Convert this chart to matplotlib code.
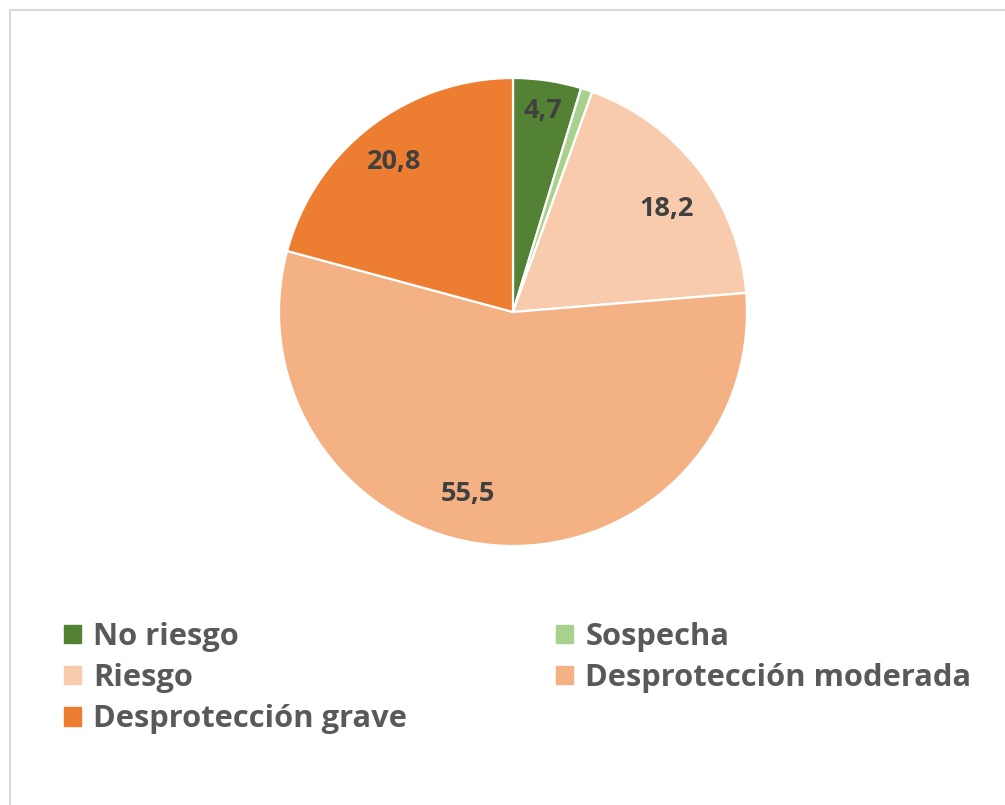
import numpy as np
import matplotlib.pyplot as plt
from matplotlib.patches import Patch
from matplotlib.lines import Line2D

categories = ["No riesgo", "Sospecha", "Riesgo", "Desprotección moderada", "Desprotección grave"]
values = [4.7, 0.8, 18.2, 55.5, 20.8]
colors = ["#548235", "#A9D18E", "#F8CBAD", "#F4B183", "#ED7D31"]

plt.rcParams['font.family'] = ['Open Sans', 'DejaVu Sans']

W, H = 1005, 805
fig = plt.figure(figsize=(W / 100, H / 100), dpi=100)

# pie axes: centre (513, 312), radius 234 px
cx, cy, r = 513, 312, 234
ax = fig.add_axes([(cx - r) / W, (H - cy - r) / H, 2 * r / W, 2 * r / H])


def fmt(p):
    if p < 2:
        return ""
    return ("%.1f" % p).replace(".", ",")


wedges, texts = ax.pie(values, colors=colors, startangle=90, counterclock=False,
                       wedgeprops=dict(edgecolor="white", linewidth=1.6),
                       labels=[fmt(v) for v in values], labeldistance=0.82,
                       textprops=dict(fontsize=19.5, fontweight="bold", color="#404040"))

# excel "best fit" label placement, roughly
label_r = [0.87, 0.8, 0.79, 0.80, 0.82]
label_shift = [0, 0, -3.4, -8.8, 1.0]
for w, t, lr, sh in zip(wedges, texts, label_r, label_shift):
    a = np.deg2rad((w.theta1 + w.theta2) / 2 + sh)
    t.set_position((lr * np.cos(a), lr * np.sin(a)))
    t.set_ha("center")
    t.set_va("center")

ax.set_xlim(-1, 1)
ax.set_ylim(-1, 1)
ax.set_aspect("equal")
ax.axis("off")

# frame lines (top and left)
fig.add_artist(Line2D([10 / W, 10 / W, 1], [0, 1 - 10 / H, 1 - 10 / H],
                      transform=fig.transFigure, color="#D9D9D9", lw=1.5))

handles = [Patch(facecolor=c, edgecolor=c) for c in colors]
leg_kw = dict(frameon=False, handlelength=0.55, handleheight=0.55,
              handletextpad=0.4, labelspacing=0.36, borderpad=0, borderaxespad=0,
              loc="upper left", prop=dict(weight="bold", size=22.2))
col1 = [0, 2, 4]
col2 = [1, 3]
leg1 = fig.legend([handles[i] for i in col1], [categories[i] for i in col1],
                  bbox_to_anchor=(64 / W, 1 - 622 / H), **leg_kw)
leg2 = fig.legend([handles[i] for i in col2], [categories[i] for i in col2],
                  bbox_to_anchor=(556 / W, 1 - 622 / H), **leg_kw)
for leg in (leg1, leg2):
    for t in leg.get_texts():
        t.set_color("#595959")

fig.savefig("out.png", dpi=100)
